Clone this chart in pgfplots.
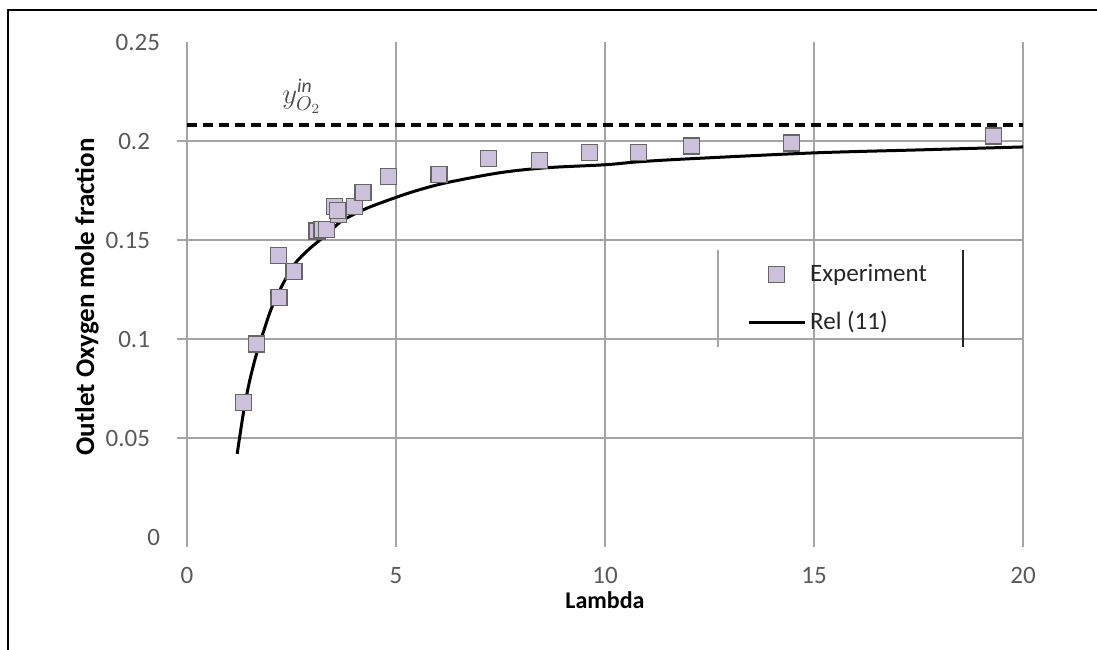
\documentclass[border=0pt]{standalone}
\usepackage{pgfplots}
\pgfplotsset{compat=1.18}
\usepackage{fontspec}
\setmainfont{Carlito}
\definecolor{markfill}{RGB}{204,192,218}
\definecolor{gridgray}{RGB}{165,165,165}
\definecolor{ticktext}{RGB}{89,89,89}
\pgfplotsset{
  legline/.style={legend image code/.code={\draw[##1] (0pt,0pt) -- (28pt,0pt);}},
  legmark/.style={legend image code/.code={\draw[mark repeat=2,mark phase=2,##1] plot coordinates {(0pt,0pt) (14pt,0pt) (28pt,0pt)};}},
}
\begin{document}
\begin{tikzpicture}
\begin{axis}[
  name=ax,
  scale only axis,
  width=418pt, height=247.5pt,
  xmin=0, xmax=20, ymin=0, ymax=0.25,
  axis lines*=left,
  x axis line style={draw=none},
  y axis line style={draw=gridgray, line width=0.75pt},
  xtick={0,5,10,15,20},
  ytick={0.05,0.1,0.15,0.2},
  extra y ticks={0,0.25},
  extra y tick style={grid=none, major tick length=0pt},
  scaled y ticks=false,
  yticklabel style={/pgf/number format/fixed, /pgf/number format/precision=2},
  /pgf/number format/assume math mode=true,
  tick label style={font=\fontsize{12.5}{14}\selectfont, text=ticktext},
  tick align=outside,
  major tick length=5pt,
  tick style={draw=gridgray, line width=0.75pt},
  grid=major,
  major grid style={draw=gridgray, line width=0.75pt},
  xticklabel style={yshift=-6.5pt},
  yticklabel style={xshift=-10pt},
  xlabel={Lambda},
  ylabel={Outlet Oxygen mole fraction},
  xlabel style={font=\fontsize{12}{14}\selectfont\bfseries, at={(axis description cs:0.5,-0.127)}, anchor=center},
  ylabel style={font=\fontsize{13.5}{15}\selectfont\bfseries, at={(axis description cs:-0.1196,0.485)}, anchor=center},
  legend style={at={(axis cs:15.6,0.1205)}, anchor=center, draw=none, fill=none,
    font=\fontsize{12.5}{14}\selectfont, row sep=9.5pt, text=black!85},
  legend cell align=left,
]
\addplot[only marks, mark=square*, mark size=4pt,
  mark options={fill=markfill, draw=black!60, line width=0.6pt}, legmark]
  coordinates {
  (1.36,0.068) (1.67,0.0975) (2.18,0.142) (2.20,0.121) (2.56,0.134)
  (3.11,0.1545) (3.23,0.1555) (3.33,0.1555) (3.62,0.163)
  (3.52,0.167) (3.61,0.165) (4.00,0.167) (4.21,0.174) (4.83,0.182)
  (6.03,0.183) (7.22,0.191) (8.44,0.190) (9.62,0.194) (10.8,0.194)
  (12.06,0.1975) (14.47,0.199) (19.3,0.2025)
  };
\addlegendentry{Experiment}
\addplot[black, line width=1.5pt, smooth, no marks, legline]
  coordinates {
  (1.2,0.042) (1.36,0.064) (1.5,0.079) (1.67,0.093) (1.85,0.105)
  (2.03,0.116) (2.3,0.128) (2.58,0.138) (2.9,0.145) (3.18,0.150)
  (3.45,0.155) (3.73,0.160) (4.3,0.166) (4.93,0.171) (5.5,0.175)
  (6.22,0.179) (7.49,0.184) (8.6,0.1865) (10,0.188) (10.8,0.1895)
  (12,0.191) (15,0.194) (17.5,0.1955) (20,0.197)
  };
\addlegendentry{Rel (11)}
\addplot[black, line width=2pt, dash pattern=on 5pt off 3pt, forget plot]
  coordinates {(0,0.208) (20,0.208)};
\node[text=black!70, font=\fontsize{14}{16}\selectfont] at (axis cs:2.75,0.2225) {$y^{\mathit{in}}_{O_2}$};
\draw[gridgray, line width=1pt] (axis cs:12.7,0.145) -- (axis cs:12.7,0.096);
\draw[black!85, line width=1pt] (axis cs:18.56,0.145) -- (axis cs:18.56,0.096);
\end{axis}
\draw[black, line width=1.1pt] ([shift={(-89.5pt,-60pt)}]ax.south west) -- ([shift={(-89.5pt,263.5pt)}]ax.south west) -- ([shift={(460pt,263.5pt)}]ax.south west);
\pgfresetboundingbox
\path ([shift={(-93.5pt,-56pt)}]ax.south west) rectangle ([shift={(455pt,268.5pt)}]ax.south west);
\end{tikzpicture}
\end{document}
